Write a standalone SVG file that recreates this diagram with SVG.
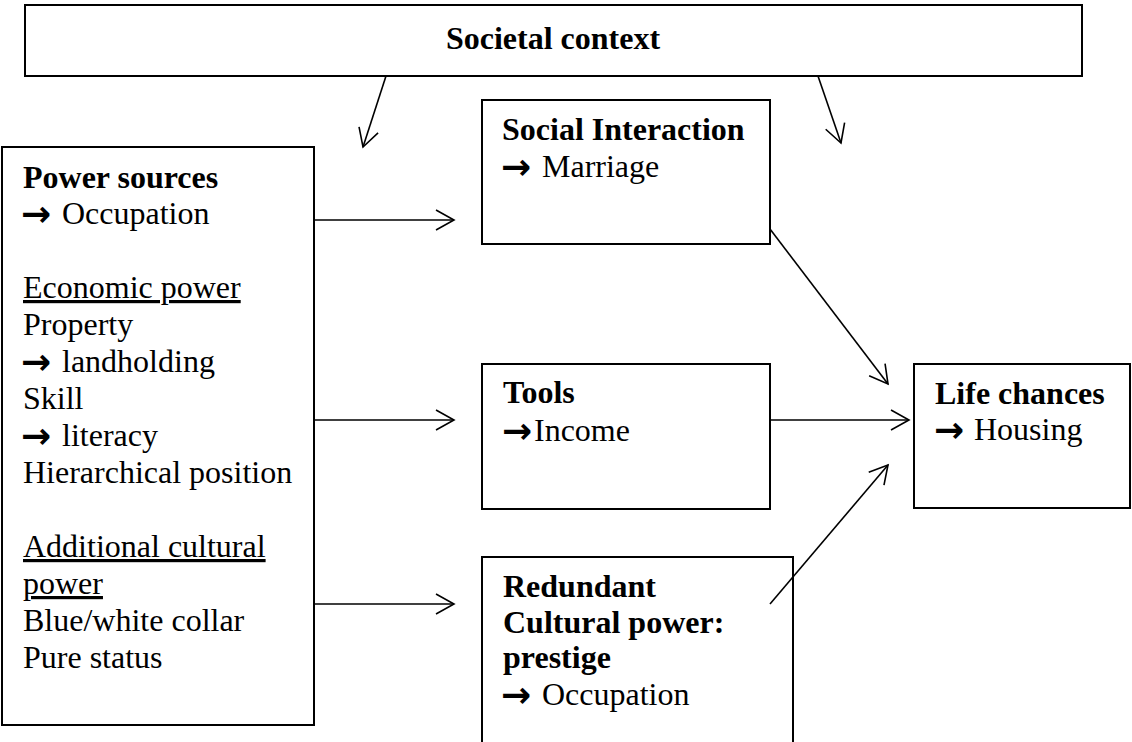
<svg xmlns="http://www.w3.org/2000/svg" width="1132" height="742" viewBox="0 0 1132 742">
<style>
.box{fill:#fff;stroke:#000;stroke-width:2}
.t{font-family:"Liberation Serif","Times New Roman",serif;font-size:32px;fill:#000}
.b{font-weight:bold}
.u{text-decoration:underline}
.ar{font-family:"DejaVu Sans",sans-serif;font-weight:bold;font-size:36px;fill:#000}
.c{fill:none;stroke:#000;stroke-width:1.6}
</style>
<defs>
<marker id="ah" markerUnits="userSpaceOnUse" markerWidth="22" markerHeight="24" refX="19" refY="11" orient="auto">
<path d="M1,1 L19,11 L1,21" fill="none" stroke="#000" stroke-width="1.6"/>
</marker>
</defs>
<rect width="1132" height="742" fill="#fff"/>
<g id="societal">
<rect class="box" x="25" y="5" width="1057" height="71"/>
<text class="t b" x="553" y="49" text-anchor="middle">Societal context</text>
</g>
<g id="power">
<rect class="box" x="2" y="147" width="312" height="578"/>
<text class="t b" x="23" y="188">Power sources</text>
<text class="ar" x="21" y="226">→</text><text class="t" x="62" y="224">Occupation</text>
<text class="t u" x="23" y="298">Economic power</text>
<text class="t" x="23" y="335">Property</text>
<text class="ar" x="21" y="374">→</text><text class="t" x="62" y="372">landholding</text>
<text class="t" x="23" y="409">Skill</text>
<text class="ar" x="21" y="448">→</text><text class="t" x="62" y="446">literacy</text>
<text class="t" x="23" y="483">Hierarchical position</text>
<text class="t u" x="23" y="557">Additional cultural</text>
<text class="t u" x="23" y="594">power</text>
<text class="t" x="23" y="631">Blue/white collar</text>
<text class="t" x="23" y="668">Pure status</text>
</g>
<g id="social">
<rect class="box" x="482" y="100" width="288" height="144"/>
<text class="t b" x="502" y="140">Social Interaction</text>
<text class="ar" x="501" y="179">→</text><text class="t" x="542" y="177">Marriage</text>
</g>
<g id="tools">
<rect class="box" x="482" y="364" width="288" height="145"/>
<text class="t b" x="503" y="403">Tools</text>
<text class="ar" x="502" y="443">→</text><text class="t" x="534" y="441">Income</text>
</g>
<g id="redundant">
<rect class="box" x="482" y="557" width="311" height="186"/>
<text class="t b" x="503" y="597">Redundant</text>
<text class="t b" x="503" y="633">Cultural power:</text>
<text class="t b" x="503" y="668">prestige</text>
<text class="ar" x="501" y="707">→</text><text class="t" x="542" y="705">Occupation</text>
</g>
<g id="life">
<rect class="box" x="914" y="364" width="216" height="144"/>
<text class="t b" x="935" y="404">Life chances</text>
<text class="ar" x="934" y="442">→</text><text class="t" x="974" y="440">Housing</text>
</g>
<g id="connectors">
<line class="c" x1="386" y1="76" x2="363" y2="147" marker-end="url(#ah)"/>
<line class="c" x1="818" y1="76" x2="841" y2="143" marker-end="url(#ah)"/>
<line class="c" x1="314" y1="220" x2="454" y2="220" marker-end="url(#ah)"/>
<line class="c" x1="314" y1="420" x2="454" y2="420" marker-end="url(#ah)"/>
<line class="c" x1="314" y1="604" x2="454" y2="604" marker-end="url(#ah)"/>
<line class="c" x1="770" y1="229" x2="888" y2="384" marker-end="url(#ah)"/>
<line class="c" x1="770" y1="420" x2="909" y2="420" marker-end="url(#ah)"/>
<line class="c" x1="770" y1="604" x2="888" y2="465" marker-end="url(#ah)"/>
</g>
</svg>
